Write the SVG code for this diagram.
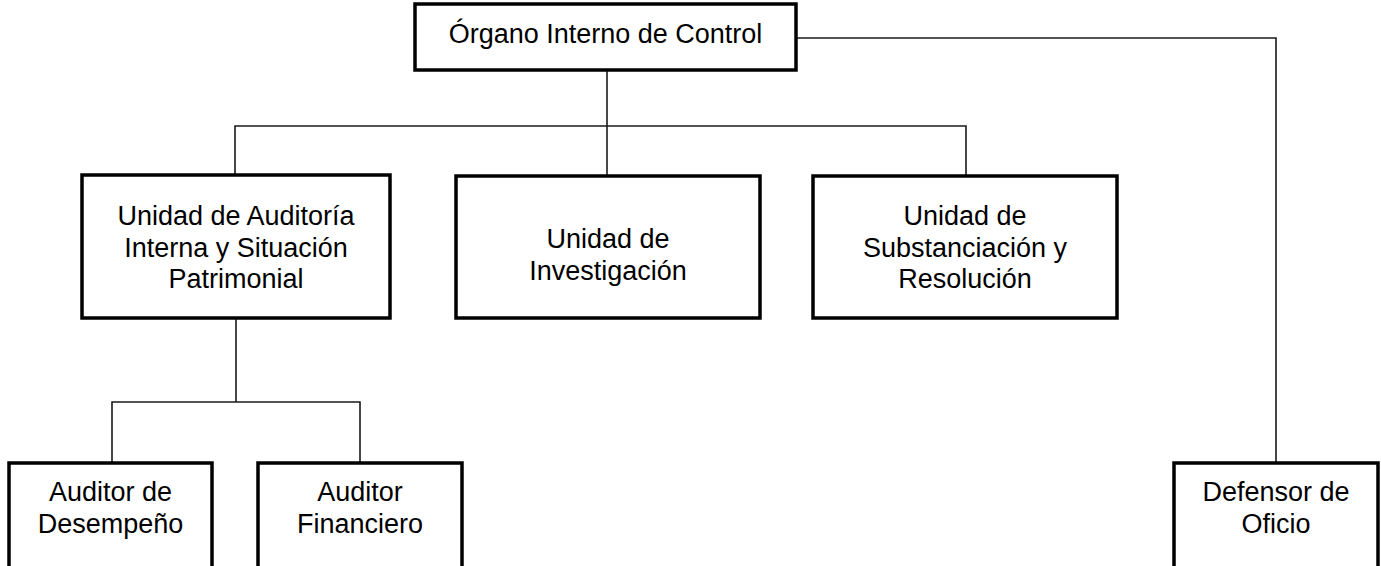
<svg xmlns="http://www.w3.org/2000/svg" width="1381" height="566" viewBox="0 0 1381 566">
<style>
.box{fill:#fff;stroke:#000;stroke-width:3.5}
.ln{fill:none;stroke:#1a1a1a;stroke-width:1.6}
text{font-family:"Liberation Sans",Arial,sans-serif;font-size:27px;fill:#000;text-anchor:middle}
</style>
<rect width="1381" height="566" fill="#fff"/>
<g id="connectors">
<path class="ln" d="M607 70V176"/>
<path class="ln" d="M235 176V126H966V176"/>
<path class="ln" d="M796 38H1276V463"/>
<path class="ln" d="M236 318V402"/>
<path class="ln" d="M112 462V402H360V462"/>
</g>
<g id="n-organo">
<rect class="box" x="415" y="4" width="381" height="66"/>
<text x="605.5" y="43">Órgano Interno de Control</text>
</g>
<g id="n-auditoria">
<rect class="box" x="82" y="175" width="308" height="143"/>
<text x="236" y="225">Unidad de Auditoría</text>
<text x="236" y="257">Interna y Situación</text>
<text x="236" y="288">Patrimonial</text>
</g>
<g id="n-investigacion">
<rect class="box" x="456" y="176" width="304" height="142"/>
<text x="608" y="248">Unidad de</text>
<text x="608" y="280">Investigación</text>
</g>
<g id="n-substanciacion">
<rect class="box" x="813" y="176" width="304" height="142"/>
<text x="965" y="225">Unidad de</text>
<text x="965" y="257">Substanciación y</text>
<text x="965" y="288">Resolución</text>
</g>
<g id="n-desempeno">
<rect class="box" x="9" y="463" width="203" height="110"/>
<text x="110.5" y="501">Auditor de</text>
<text x="110.5" y="533">Desempeño</text>
</g>
<g id="n-financiero">
<rect class="box" x="258" y="463" width="204" height="110"/>
<text x="360" y="501">Auditor</text>
<text x="360" y="533">Financiero</text>
</g>
<g id="n-defensor">
<rect class="box" x="1174" y="463" width="204" height="110"/>
<text x="1276" y="501">Defensor de</text>
<text x="1276" y="533">Oficio</text>
</g>
</svg>
